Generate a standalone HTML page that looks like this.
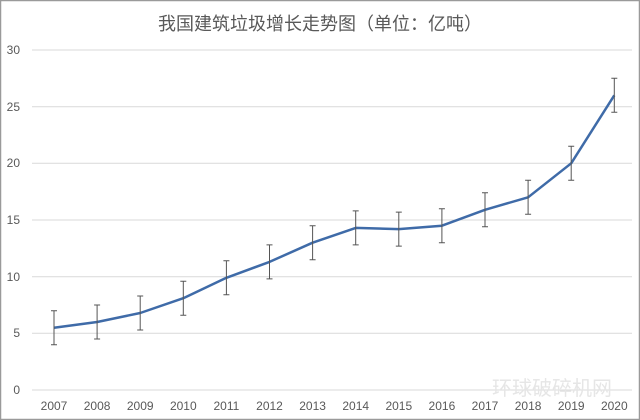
<!DOCTYPE html>
<html><head><meta charset="utf-8"><style>
html,body{margin:0;padding:0;background:#fff;}
svg{display:block;}
</style></head><body>
<svg width="640" height="420" viewBox="0 0 640 420" xmlns="http://www.w3.org/2000/svg" font-family="Liberation Sans, Noto Sans CJK SC, sans-serif">
<rect x="0.5" y="0.5" width="639" height="419" fill="#fff" stroke="#9a9a9a" stroke-width="1.5"/>
<text x="320" y="30" text-anchor="middle" font-size="18" fill="#595959" font-family="Liberation Sans, Noto Sans CJK SC, sans-serif">我国建筑垃圾增长走势图（单位：亿吨）</text>
<g stroke="#d9d9d9" stroke-width="1">
<line x1="32" x2="632" y1="390" y2="390"/>
<line x1="32" x2="632" y1="333.3" y2="333.3"/>
<line x1="32" x2="632" y1="276.7" y2="276.7"/>
<line x1="32" x2="632" y1="220" y2="220"/>
<line x1="32" x2="632" y1="163.3" y2="163.3"/>
<line x1="32" x2="632" y1="106.7" y2="106.7"/>
<line x1="32" x2="632" y1="50" y2="50"/>
</g>
<g font-size="12" fill="#595959" text-anchor="end">
<text x="20" y="394">0</text><text x="20" y="337">5</text><text x="20" y="281">10</text><text x="20" y="224">15</text><text x="20" y="167">20</text><text x="20" y="111">25</text><text x="20" y="54">30</text>
</g>
<text x="552" y="395" font-size="20" fill="#e6e6e6" text-anchor="middle" font-family="Noto Sans CJK SC, sans-serif">环球破碎机网</text>
<g font-size="12" fill="#595959" text-anchor="middle">
<text x="54" y="410">2007</text><text x="97.1" y="410">2008</text><text x="140.2" y="410">2009</text><text x="183.3" y="410">2010</text><text x="226.4" y="410">2011</text><text x="269.5" y="410">2012</text><text x="312.6" y="410">2013</text><text x="355.7" y="410">2014</text><text x="398.8" y="410">2015</text><text x="441.9" y="410">2016</text><text x="485" y="410">2017</text><text x="528.1" y="410">2018</text><text x="571.2" y="410">2019</text><text x="614.3" y="410">2020</text>
</g>
<g stroke="#666" stroke-width="1" id="eb"></g>
<polyline fill="none" stroke="#3f6ba8" stroke-width="2.5" stroke-linejoin="round"
points="54,327.7 97.1,322 140.2,313 183.3,298.2 226.4,277.8 269.5,261.9 312.6,242.7 355.7,227.9 398.8,229.1 441.9,225.7 485,209.8 528.1,197.3 571.2,163.3 614.3,95.3"/>
<g stroke="#555" stroke-width="1">
<path d="M54,310.7V344.7M51,310.7h6M51,344.7h6"/>
<path d="M97.1,305V339M94.1,305h6M94.1,339h6"/>
<path d="M140.2,296V330M137.2,296h6M137.2,330h6"/>
<path d="M183.3,281.2V315.2M180.3,281.2h6M180.3,315.2h6"/>
<path d="M226.4,260.8V294.8M223.4,260.8h6M223.4,294.8h6"/>
<path d="M269.5,244.9V278.9M266.5,244.9h6M266.5,278.9h6"/>
<path d="M312.6,225.7V259.7M309.6,225.7h6M309.6,259.7h6"/>
<path d="M355.7,210.9V244.9M352.7,210.9h6M352.7,244.9h6"/>
<path d="M398.8,212.1V246.1M395.8,212.1h6M395.8,246.1h6"/>
<path d="M441.9,208.7V242.7M438.9,208.7h6M438.9,242.7h6"/>
<path d="M485,192.8V226.8M482,192.8h6M482,226.8h6"/>
<path d="M528.1,180.3V214.3M525.1,180.3h6M525.1,214.3h6"/>
<path d="M571.2,146.3V180.3M568.2,146.3h6M568.2,180.3h6"/>
<path d="M614.3,78.3V112.3M611.3,78.3h6M611.3,112.3h6"/>
</g>
</svg>
</body></html>
